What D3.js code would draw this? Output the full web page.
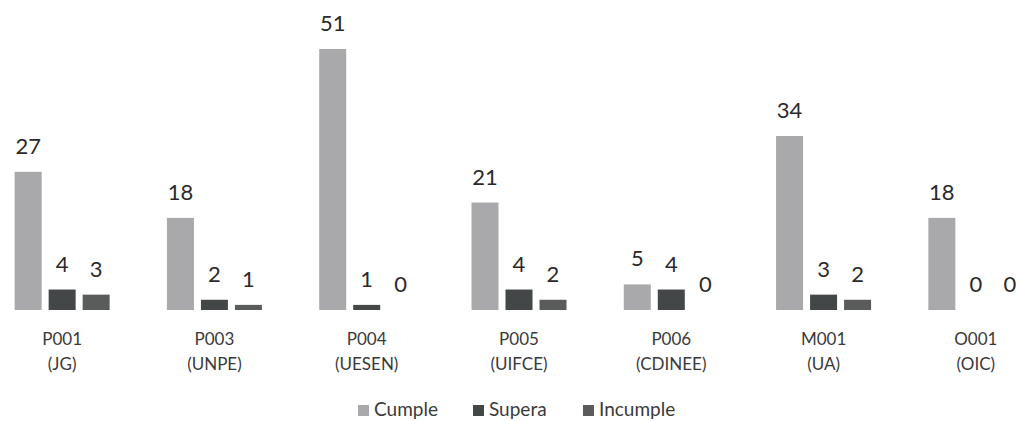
<!DOCTYPE html>
<html>
<head>
<meta charset="utf-8">
<script src="https://cdn.jsdelivr.net/npm/d3@7"></script>
<style>
  body { margin: 0; background: #fff; }
  svg { display: block; font-family: Lato, "Open Sans", sans-serif; }
</style>
</head>
<body>
<div id="chart"></div>
<script>
// Data
const categories = ["P001", "P003", "P004", "P005", "P006", "M001", "O001"];
const subLabels = ["(JG)", "(UNPE)", "(UESEN)", "(UIFCE)", "(CDINEE)", "(UA)", "(OIC)"];
const seriesNames = ["Cumple", "Supera", "Incumple"];
const cumple = [27, 18, 51, 21, 5, 34, 18];
const supera = [4, 2, 1, 4, 4, 3, 0];
const incumple = [3, 1, 0, 2, 0, 2, 0];

const colors = ["#a9a9ab", "#434747", "#5a5c5c"];

const width = 1016;
const height = 421;
const baseY = 310;

const rows = categories.map((c, i) => ({
    cat: c,
    sub: subLabels[i],
    vals: [cumple[i], supera[i], incumple[i]]
}));

// outer band per category (chart is cropped at both sides)
const x0 = d3.scaleBand()
    .domain(categories)
    .range([-14, 1052]);

const inner = 95;
const x1 = d3.scaleBand()
    .domain(seriesNames)
    .range([(x0.bandwidth() - inner) / 2, (x0.bandwidth() + inner) / 2])
    .paddingInner(0.206);

const y = d3.scaleLinear()
    .domain([0, 51])
    .range([baseY, 49]);

const svg = d3.select("#chart").append("svg")
    .attr("width", width)
    .attr("height", height);

const g = svg.selectAll("g.cat")
    .data(rows)
    .join("g")
    .attr("class", "cat")
    .attr("transform", d => `translate(${x0(d.cat)},0)`);

g.selectAll("rect")
    .data(d => d.vals.map((v, k) => ({ key: seriesNames[k], v, k })))
    .join("rect")
    .attr("x", d => x1(d.key))
    .attr("y", d => y(d.v))
    .attr("width", x1.bandwidth())
    .attr("height", d => baseY - y(d.v))
    .attr("fill", d => colors[d.k]);

g.selectAll("text.val")
    .data(d => d.vals.map((v, k) => ({ key: seriesNames[k], v, k })))
    .join("text")
    .attr("class", "val")
    .attr("x", d => x1(d.key) + x1.bandwidth() / 2)
    .attr("y", d => y(d.v) - 18)
    .attr("text-anchor", "middle")
    .attr("font-size", 22)
    .attr("fill", "#2a2a2a")
    .text(d => d.v);

// category labels, two lines
g.append("text")
    .attr("x", x0.bandwidth() / 2)
    .attr("y", 345)
    .attr("text-anchor", "middle")
    .attr("font-size", 17)
    .attr("fill", "#3a3a3a")
    .text(d => d.cat);

g.append("text")
    .attr("x", x0.bandwidth() / 2)
    .attr("y", 370)
    .attr("text-anchor", "middle")
    .attr("font-size", 17)
    .attr("fill", "#3a3a3a")
    .text(d => d.sub);

// legend
const legendX = [358, 473, 583];
const legend = svg.selectAll("g.leg")
    .data(seriesNames)
    .join("g")
    .attr("class", "leg")
    .attr("transform", (d, i) => `translate(${legendX[i]},0)`);

legend.append("rect")
    .attr("x", 0)
    .attr("y", 405)
    .attr("width", 11)
    .attr("height", 11)
    .attr("fill", (d, i) => colors[i]);

legend.append("text")
    .attr("x", 16)
    .attr("y", 416)
    .attr("font-size", 19)
    .attr("fill", "#3a3a3a")
    .text(d => d);
</script>
</body>
</html>
